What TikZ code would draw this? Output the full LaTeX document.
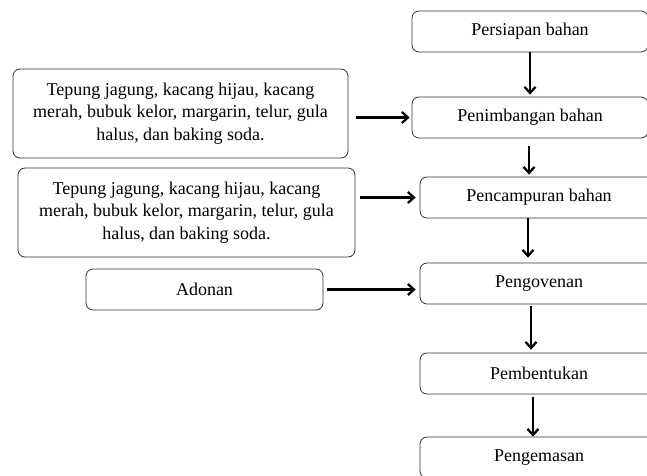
\documentclass[tikz,border=0pt]{standalone}
\usepackage{fontspec}
\setmainfont{Liberation Serif}
\usepackage{tikz}
\usetikzlibrary{calc, arrows.meta, positioning}
\usepackage{xcolor}

\begin{document}
\begin{tikzpicture}[
	x=1pt, y=-1pt,
	>={Straight Barb[length=6pt, width=11pt]},
	every node/.style={font=\fontsize{18}{22.5}\selectfont},
	proses/.style={draw=black!80, line width=0.8pt, rounded corners=7pt, inner sep=2pt},
	bahan/.style={proses, align=center},
	panah/.style={->, line width=2.3pt, black}
	]
	% =====================================================
	% BATAS GAMBAR
	% =====================================================
	\useasboundingbox (0,0) rectangle (647,475);

	% =====================================================
	% ALUR PROSES (kolom kanan)
	% =====================================================
	\node[proses, minimum width=236pt, minimum height=41pt] (persiapan) at (530,31.5) {Persiapan bahan};
	\node[proses, minimum width=236pt, minimum height=41pt] (penimbangan) at (530,117.5) {Penimbangan bahan};
	\node[proses, minimum width=238pt, minimum height=41pt] (pencampuran) at (539,197.5) {Pencampuran bahan};
	\node[proses, minimum width=238pt, minimum height=41pt] (pengovenan) at (539,283.5) {Pengovenan};
	\node[proses, minimum width=238pt, minimum height=41pt] (pembentukan) at (539,373.5) {Pembentukan};
	\node[proses, minimum width=238pt, minimum height=41pt] (pengemasan) at (539,457.5) {Pengemasan};

	% =====================================================
	% BAHAN MASUK (kolom kiri)
	% =====================================================
	\node[bahan, minimum width=335pt, minimum height=89pt] (bahan1) at (180.5,113.5)
		{Tepung jagung, kacang hijau, kacang\\ merah, bubuk kelor, margarin, telur, gula\\ halus, dan baking soda.};
	\node[bahan, minimum width=337pt, minimum height=89pt] (bahan2) at (186.5,212.5)
		{Tepung jagung, kacang hijau, kacang\\ merah, bubuk kelor, margarin, telur, gula\\ halus, dan baking soda.};
	\node[proses, minimum width=237pt, minimum height=41pt] (adonan) at (204.5,289.5) {Adonan};

	% =====================================================
	% PANAH MASUK
	% =====================================================
	\draw[panah, shorten <=8pt, shorten >=2pt] (bahan1.east |- penimbangan.west) -- (penimbangan.west);
	\draw[panah, shorten <=5pt, shorten >=4pt] (bahan2.east |- pencampuran.west) -- (pencampuran.west);
	\draw[panah, shorten <=4pt, shorten >=4pt] (adonan.east) -- (adonan.east -| pengovenan.west);

	% =====================================================
	% PANAH ALUR
	% =====================================================
	\draw[panah, shorten >=2pt] (persiapan) -- (penimbangan);
	\draw[panah, shorten <=8pt, shorten >=2pt] ([xshift=-1pt]penimbangan.south) -- ([xshift=-1pt]penimbangan.south |- pencampuran.north);
	\draw[panah, shorten >=5pt] ([xshift=-11pt]pencampuran.south) -- ([xshift=-11pt]pengovenan.north);
	\draw[panah, shorten <=2pt, shorten >=3pt] ([xshift=-8pt]pengovenan.south) -- ([xshift=-8pt]pembentukan.north);
	\draw[panah, shorten <=3pt] ([xshift=-6pt]pembentukan.south) -- ([xshift=-6pt]pengemasan.north);

\end{tikzpicture}
\end{document}
